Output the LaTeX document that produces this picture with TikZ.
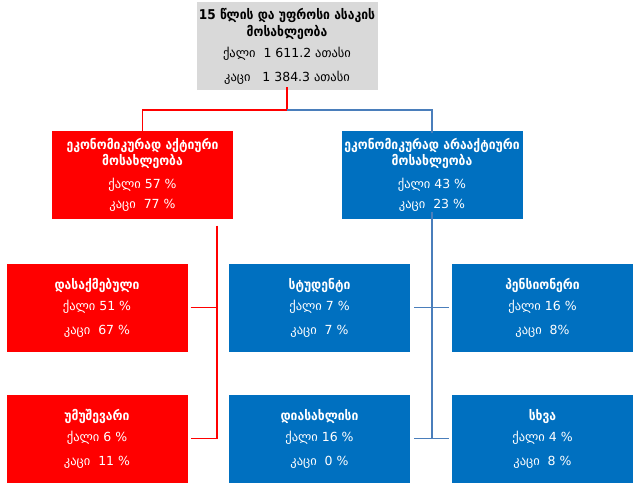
\documentclass[tikz,border=0pt]{standalone}
\usepackage{fontspec}
\setmainfont{DejaVu Sans}
\newfontfamily\titlefont{DejaVu Sans Condensed}
\usetikzlibrary{positioning,calc}
\definecolor{chartred}{RGB}{255,0,0}
\definecolor{chartblue}{RGB}{0,112,192}
\definecolor{chartgray}{RGB}{217,217,217}
\definecolor{linkblue}{RGB}{74,126,187}
\tikzset{
  catbox/.style={minimum width=181, minimum height=88, inner sep=0pt,
    align=center, text=white, font=\fontsize{12.5}{16}\selectfont},
  redbox/.style={catbox, fill=chartred},
  bluebox/.style={catbox, fill=chartblue},
  graybox/.style={catbox, fill=chartgray, text=black},
  redline/.style={draw=chartred, line width=1.8pt},
  blueline/.style={draw=linkblue, line width=1.8pt}
}
\newcommand{\boxhead}[1]{{\bfseries\titlefont\fontsize{13.5}{16}\selectfont #1}}
\begin{document}
\begin{tikzpicture}[x=1pt,y=-1pt]
  \useasboundingbox (0,0) rectangle (634,482);
  % top level
  \node[graybox] (total) at (287,46) {\boxhead{15 წლის და უფროსი ასაკის}\\[1pt]\boxhead{მოსახლეობა}\\[5pt]ქალი\ \ 1 611.2 ათასი\\[8pt]კაცი\ \ \ 1 384.3 ათასი};
  % second level
  \node[redbox] (active) at (142.5,174.5) {\boxhead{ეკონომიკურად აქტიური}\\[0pt]\boxhead{მოსახლეობა}\\[7pt]ქალი 57 \%\\[4pt]კაცი\ \ 77 \%};
  \node[bluebox] (inactive) at (432,174.5) {\boxhead{ეკონომიკურად არააქტიური}\\[0pt]\boxhead{მოსახლეობა}\\[7pt]ქალი 43 \%\\[4pt]კაცი\ \ 23 \%};
  % third level
  \node[redbox] (employed) at (97,307.5) {\boxhead{დასაქმებული}\\[5pt]ქალი 51 \%\\[8pt]კაცი\ \ 67 \%};
  \node[redbox] (unemployed) at (97,438.5) {\boxhead{უმუშევარი}\\[5pt]ქალი 6 \%\\[8pt]კაცი\ \ 11 \%};
  \node[bluebox] (student) at (319.5,307.5) {\boxhead{სტუდენტი}\\[5pt]ქალი 7 \%\\[8pt]კაცი\ \ 7 \%};
  \node[bluebox] (housewife) at (319.5,438.5) {\boxhead{დიასახლისი}\\[5pt]ქალი 16 \%\\[8pt]კაცი\ \ 0 \%};
  \node[bluebox] (pensioner) at (542.5,307.5) {\boxhead{პენსიონერი}\\[5pt]ქალი 16 \%\\[8pt]კაცი\ \ 8\%};
  \node[bluebox] (other) at (542.5,438.5) {\boxhead{სხვა}\\[5pt]ქალი 4 \%\\[8pt]კაცი\ \ 8 \%};
  % connectors
  \coordinate (split) at ($(total.south)+(0,20)$);
  \coordinate (redtrunk) at ($(active.south east)+(-16,7)$);
  \draw[redline] ([yshift=3]total.south) -- (split) -| ([yshift=-3]active.north);
  \draw[blueline] (split) -| ([yshift=-3]inactive.north);
  \draw[redline] (redtrunk) -- (unemployed.east -| redtrunk) -- ([xshift=3]unemployed.east);
  \draw[redline] ([xshift=3]employed.east) -- (employed.east -| redtrunk);
  \draw[blueline] ([yshift=7]inactive.south) -- (housewife.east -| inactive.south);
  \draw[blueline] ([xshift=4]student.east) -- ([xshift=-3]pensioner.west);
  \draw[blueline] ([xshift=4]housewife.east) -- ([xshift=-3]other.west);
\end{tikzpicture}
\end{document}
